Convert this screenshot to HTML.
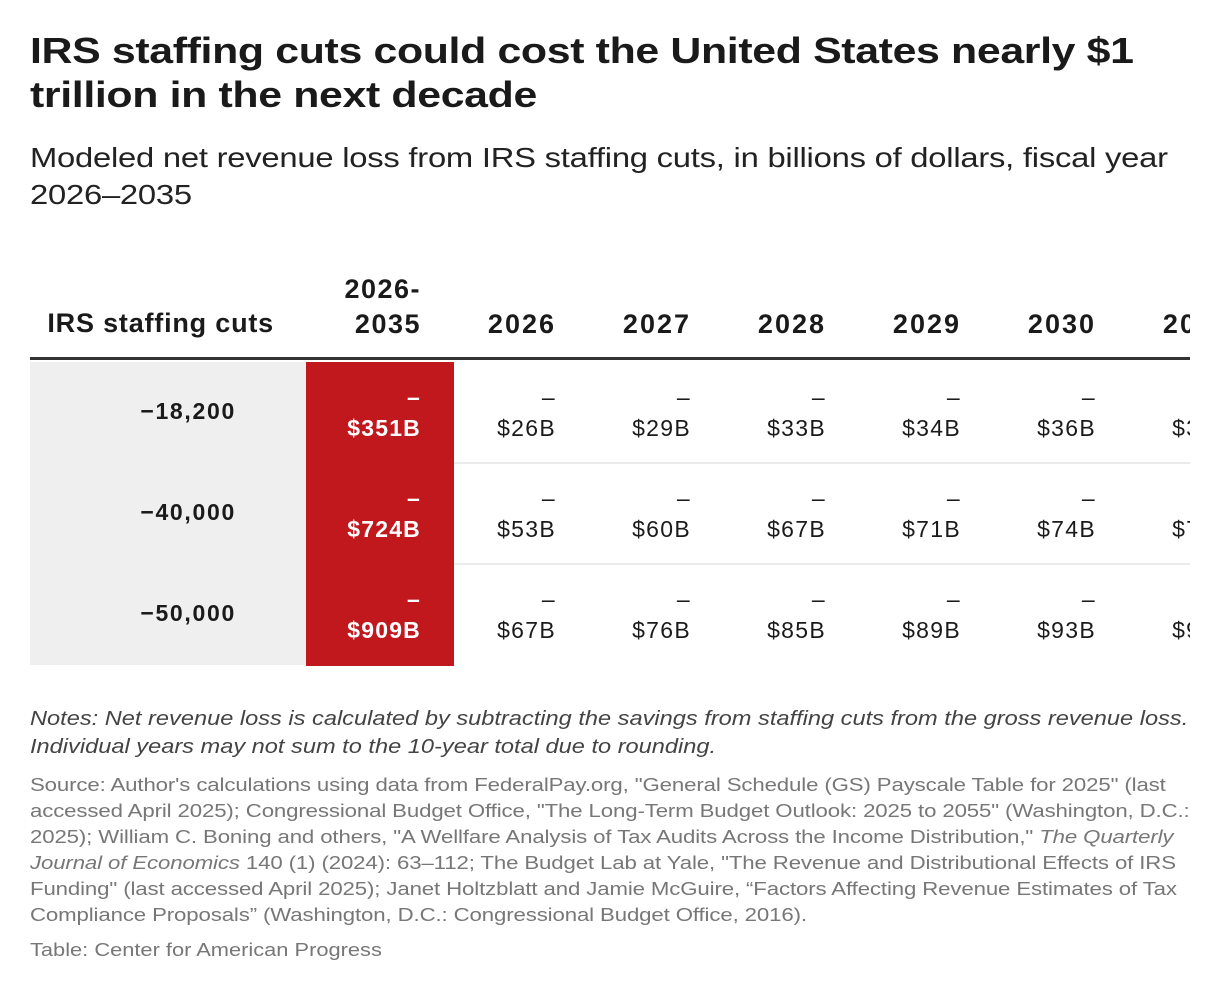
<!DOCTYPE html>
<html><head><meta charset="utf-8">
<style>
body{margin:0;width:1220px;height:996px;background:#fff;font-family:"Liberation Sans",sans-serif;color:#1a1a1a;position:relative;overflow:hidden}
.abs{position:absolute;white-space:nowrap;transform-origin:0 0}
#title{left:30px;top:29px;font-size:36px;font-weight:bold;line-height:44px;letter-spacing:-0.3px;transform:scaleX(1.19)}
#sub{left:30px;top:139px;font-size:28px;line-height:37px;color:#222;letter-spacing:-0.2px;transform:scaleX(1.17)}
#tbl{position:absolute;left:30px;top:260px;width:1160px;height:410px;overflow:hidden}
.cell{position:absolute;text-align:right;box-sizing:border-box}
#notes{left:30px;top:705px;font-size:20px;line-height:28px;font-style:italic;color:#444;transform:scaleX(1.18)}
#src{left:30px;top:772px;font-size:18.5px;line-height:26px;color:#777;letter-spacing:-0.1px;transform:scaleX(1.2)}
#credit{left:30px;top:937px;font-size:18.5px;line-height:26px;color:#777;transform:scaleX(1.18)}
</style></head><body>
<div id="title" class="abs">IRS staffing cuts could cost the United States nearly $1<br>trillion in the next decade</div>
<div id="sub" class="abs">Modeled net revenue loss from IRS staffing cuts, in billions of dollars, fiscal year<br>2026–2035</div>
<div id="tbl"></div>
<div id="notes" class="abs">Notes: Net revenue loss is calculated by subtracting the savings from staffing cuts from the gross revenue loss.<br>Individual years may not sum to the 10-year total due to rounding.</div>
<div id="src" class="abs">Source: Author's calculations using data from FederalPay.org, "General Schedule (GS) Payscale Table for 2025" (last<br>accessed April 2025); Congressional Budget Office, "The Long-Term Budget Outlook: 2025 to 2055" (Washington, D.C.:<br>2025); William C. Boning and others, "A Wellfare Analysis of Tax Audits Across the Income Distribution," <i>The Quarterly</i><br><i>Journal of Economics</i> 140 (1) (2024): 63–112; The Budget Lab at Yale, "The Revenue and Distributional Effects of IRS<br>Funding" (last accessed April 2025); Janet Holtzblatt and Jamie McGuire, “Factors Affecting Revenue Estimates of Tax<br>Compliance Proposals” (Washington, D.C.: Congressional Budget Office, 2016).</div>
<div id="credit" class="abs">Table: Center for American Progress</div>
<script>
const rowLabels=["−18,200","−40,000","−50,000"];
const colLabels=["2026-<br>2035","2026","2027","2028","2029","2030","2031"];
const totals=[351,724,909];
const v2026=[26,53,67];
const v2027=[29,60,76];
const v2028=[33,67,85];
const v2029=[34,71,89];
const v2030=[36,74,93];
const v2031=[38,77,96];
const yearCols=[v2026,v2027,v2028,v2029,v2030,v2031];
const t=document.getElementById('tbl');
function mk(html,css,name){const d=document.createElement('div');d.className='cell';d.innerHTML=html;Object.assign(d.style,css);


t.appendChild(d);return d;}
const hb=97, rh=101, rt=102;
mk('IRS staffing cuts',{left:'0px',width:'244px',top:'38px',height:'50px',fontWeight:'bold',fontSize:'27px',lineHeight:'50px',letterSpacing:'0.8px',paddingRight:'0px'},'header-label');
colLabels.forEach((c,i)=>{
 mk(c,{left:(i==0?276:276+148+(i-1)*135)+'px',width:(i==0?148:135)+'px',top:'0px',height:'82px',paddingRight:'33px',fontWeight:'bold',fontSize:'27px',lineHeight:'35px',letterSpacing:(i==0?'1.5px':'2px'),display:'flex',flexDirection:'column',justifyContent:'flex-end',alignItems:'flex-end'},'column-header');});
mk('',{left:'0',top:hb+'px',width:'1160px',height:'3px',background:'#333'},'header-rule');
rowLabels.forEach((r,k)=>{const y=rt+k*rh;
 mk(r,{left:'0',top:y+'px',width:'276px',height:rh+'px',background:'#efefef',paddingRight:'70px',fontWeight:'bold',fontSize:'23px',letterSpacing:'1.7px',lineHeight:(rh-2)+'px'},'row-label');
 mk('–<br>$'+totals[k]+'B',{left:'276px',top:y+'px',width:'148px',height:(rh+1)+'px',background:'#c0181d',color:'#fff',paddingRight:'33px',fontWeight:'bold',fontSize:'23px',letterSpacing:'1.2px',lineHeight:'31px',paddingTop:'20px'},'total-cell');
 yearCols.forEach((arr,j)=>{mk('–<br>$'+arr[k]+'B',{left:(424+j*135)+'px',top:y+'px',width:'135px',height:rh+'px',paddingRight:'33px',fontSize:'23px',letterSpacing:'1.3px',lineHeight:'31px',paddingTop:'20px',color:'#1a1a1a'},'value-cell');});
 if(k<2) mk('',{left:'424px',top:(y+rh-1)+'px',width:'800px',height:'2px',background:'#ebebeb'},'row-divider');
});
</script>
</body></html>
